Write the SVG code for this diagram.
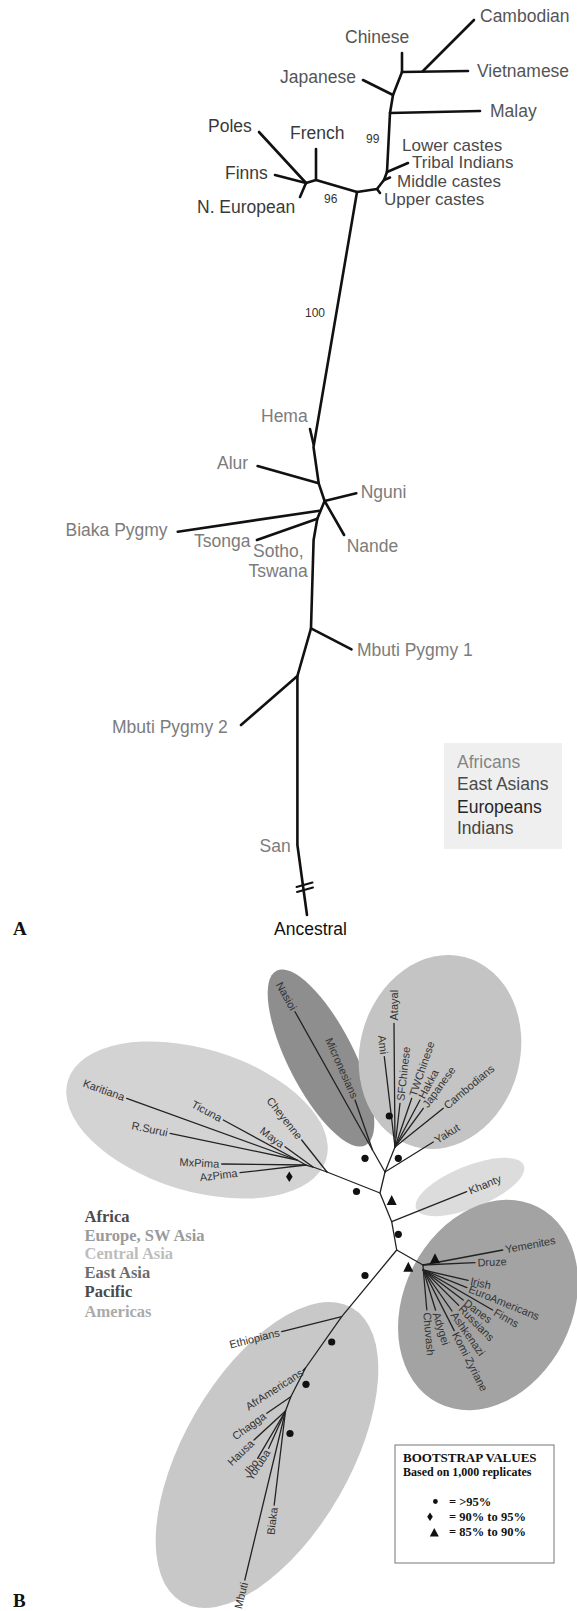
<svg xmlns="http://www.w3.org/2000/svg" width="577" height="1611" viewBox="0 0 577 1611">
<style>
.ta{font-family:"Liberation Sans",Arial,sans-serif;font-size:17.5px}
.ti{font-family:"Liberation Sans",Arial,sans-serif;font-size:17px}
.af{fill:#7c7c7c}
.ea{fill:#555}
.eu{fill:#3a3a3a}
.in{fill:#4a4a4a}
.num{font-family:"Liberation Sans",Arial,sans-serif;font-size:12px;fill:#333}
.la{fill:none;stroke:#111;stroke-width:2.6;stroke-linecap:round;stroke-linejoin:round}
.lb{fill:none;stroke:#222;stroke-width:1.3;stroke-linecap:round;stroke-linejoin:round}
.t{font-family:"Liberation Sans",Arial,sans-serif;font-size:11px;fill:#333}
.leg{font-family:"Liberation Serif","Times New Roman",serif;font-weight:bold;font-size:16.5px}
.bs{font-family:"Liberation Serif","Times New Roman",serif;font-weight:bold;fill:#111}
.panel{font-family:"Liberation Serif","Times New Roman",serif;font-weight:bold;font-size:19px;fill:#111}
.dot{fill:#111}
</style>
<rect width="577" height="1611" fill="#fff"/>

<!-- ===== Panel A ===== -->
<g id="a-connectors" class="la">
  <path d="M423,71 L474,20"/>
  <path d="M402,72 L468,71"/>
  <path d="M402,53 L402,72"/>
  <path d="M402,72 L393,95 L390,113 L387,172"/>
  <path d="M393,95 L363,80"/>
  <path d="M390,113 L480,111"/>
  <path d="M387,172 L408,163"/>
  <path d="M387,172 L384,180 L377,189 L357,192"/>
  <path d="M384,180 L390,177.5"/>
  <path d="M377,189 L380,193"/>
  <path d="M357,192 L316,180 L306,183"/>
  <path d="M316,180 L316,149"/>
  <path d="M306,183 L259,132"/>
  <path d="M306,183 L275,175"/>
  <path d="M306,183 L300,197"/>
  <path d="M357,192 L313.5,447 L318.7,483.3 L324.6,501 L317.3,518.7 L313.6,540 L311,628.3 L297.4,676 L297.4,845 L307,915"/>
  <path d="M313.5,444 L310,429"/>
  <path d="M318.7,483.3 L257.6,466"/>
  <path d="M324.6,501 L356.3,493.3"/>
  <path d="M324.6,501 L344.1,535"/>
  <path d="M319.5,510.7 L177.8,531.7"/>
  <path d="M317.3,518.7 L256.9,540"/>
  <path d="M311,628.3 L351.5,649.3"/>
  <path d="M297.4,676 L241,725"/>
  <path d="M296.5,887 L312.5,882.5" stroke-width="2"/>
  <path d="M297,892 L313,887.5" stroke-width="2"/>
</g>

<g id="n-cambodian"><text class="ta ea" x="480" y="22">Cambodian</text></g>
<g id="n-chinese"><text class="ta ea" x="345" y="43.3">Chinese</text></g>
<g id="n-vietnamese"><text class="ta ea" x="477" y="77.3">Vietnamese</text></g>
<g id="n-japanese"><text class="ta ea" x="280" y="82.7">Japanese</text></g>
<g id="n-malay"><text class="ta ea" x="490" y="117">Malay</text></g>
<g id="n-poles"><text class="ta eu" x="208" y="131.7">Poles</text></g>
<g id="n-french"><text class="ta eu" x="290" y="139.3">French</text></g>
<g id="n-lower"><text class="ti in" x="402" y="150.5">Lower castes</text></g>
<g id="n-tribal"><text class="ti in" x="412" y="167.5">Tribal Indians</text></g>
<g id="n-finns"><text class="ta eu" x="225" y="179">Finns</text></g>
<g id="n-middle"><text class="ti in" x="397" y="187">Middle castes</text></g>
<g id="n-upper"><text class="ti in" x="384" y="204.5">Upper castes</text></g>
<g id="n-neuropean"><text class="ta eu" x="197" y="213">N. European</text></g>
<g id="b-99"><text class="num" x="366" y="143">99</text></g>
<g id="b-96"><text class="num" x="324" y="203">96</text></g>
<g id="b-100"><text class="num" x="305" y="317">100</text></g>
<g id="n-hema"><text class="ta af" x="261" y="422">Hema</text></g>
<g id="n-alur"><text class="ta af" x="217" y="469.3">Alur</text></g>
<g id="n-nguni"><text class="ta af" x="360.7" y="498.3">Nguni</text></g>
<g id="n-biaka"><text class="ta af" x="65.5" y="535.7">Biaka Pygmy</text></g>
<g id="n-tsonga"><text class="ta af" x="194" y="546.7">Tsonga</text></g>
<g id="n-nande"><text class="ta af" x="346.7" y="552.3">Nande</text></g>
<g id="n-sotho"><text class="ta af" x="253" y="556.7">Sotho,<tspan x="248.4" y="577.3">Tswana</tspan></text></g>
<g id="n-mbuti1"><text class="ta af" x="357" y="656">Mbuti Pygmy 1</text></g>
<g id="n-mbuti2"><text class="ta af" x="112" y="732.7">Mbuti Pygmy 2</text></g>
<g id="n-san"><text class="ta af" x="259.5" y="851.7">San</text></g>
<g id="n-ancestral"><text class="ta" fill="#111" x="274" y="935">Ancestral</text></g>

<g id="legend-a">
  <rect x="444" y="743" width="118" height="106" fill="#efefef"/>
  <text class="ta" x="457" y="768.3" fill="#858585">Africans</text>
  <text class="ta" x="457" y="790" fill="#4a4a4a">East Asians</text>
  <text class="ta" x="457" y="812.7" fill="#262626">Europeans</text>
  <text class="ta" x="457" y="834" fill="#444">Indians</text>
</g>
<g id="label-A"><text class="panel" x="13" y="935">A</text></g>

<!-- ===== Panel B ===== -->
<g id="clusters">
  <ellipse id="c-americas" cx="197" cy="1120" rx="135" ry="71" transform="rotate(17 197 1120)" fill="#d3d3d3"/>
  <ellipse id="c-pacific" cx="321" cy="1058" rx="98" ry="33" transform="rotate(63 321 1058)" fill="#8e8e8e"/>
  <ellipse id="c-eastasia" cx="440" cy="1052" rx="80" ry="98" transform="rotate(15 440 1052)" fill="#c4c4c4"/>
  <ellipse id="c-centralasia" cx="470" cy="1187" rx="58" ry="21" transform="rotate(-22 470 1187)" fill="#dcdcdc"/>
  <ellipse id="c-europe" cx="488" cy="1305" rx="84" ry="110" transform="rotate(27 488 1305)" fill="#a3a3a3"/>
  <ellipse id="c-africa" cx="267" cy="1455" rx="83" ry="170" transform="rotate(30 267 1455)" fill="#c8c8c8"/>
</g>

<g id="b-connectors" class="lb">
  <path d="M327,1172 L380,1193 L391.7,1221.7 L396.7,1250 L423,1265"/>
  <path d="M380,1193 L385,1172"/>
  <path d="M385,1172 L372.5,1150 L295,1011.7"/>
  <path d="M372.5,1150 L355,1100"/>
  <path d="M385,1172 L395,1147 L394,1023.3"/>
  <path d="M395,1147 L384.3,1056.7"/>
  <path d="M395,1147 L400,1103.3"/>
  <path d="M395,1147 L411.7,1098.3"/>
  <path d="M395,1147 L420,1100"/>
  <path d="M395,1147 L423.3,1108.3"/>
  <path d="M395,1147 L443.3,1108.3"/>
  <path d="M385,1172 L433.3,1142"/>
  <path d="M327,1172 L313,1167 L306,1165 L297,1160 L126.7,1098.3"/>
  <path d="M327,1172 L301.7,1140"/>
  <path d="M313,1167 L285,1146.7"/>
  <path d="M297,1160 L223.3,1120"/>
  <path d="M297,1160 L170,1133.3"/>
  <path d="M306,1165 L221.7,1164"/>
  <path d="M306,1165 L240,1172.7"/>
  <path d="M391.7,1221.7 L466.7,1191.7"/>
  <path d="M423,1265 L502.7,1250"/>
  <path d="M423,1265 L475,1262.7"/>
  <path d="M423,1265 L423.3,1270"/>
  <path d="M423.3,1270 L468.1,1280.3"/>
  <path d="M423.3,1270 L466.9,1287.6"/>
  <path d="M423.3,1270 L492.6,1310"/>
  <path d="M423.3,1270 L463.2,1300.1"/>
  <path d="M423.3,1270 L458.7,1305.4"/>
  <path d="M423.3,1270 L452,1311"/>
  <path d="M423.3,1270 L454.2,1330.6"/>
  <path d="M423.3,1270 L435.6,1310.2"/>
  <path d="M423.3,1270 L426.8,1309.8"/>
  <path d="M396.7,1250 L341.7,1316.7 L305.5,1368 L290.8,1396.7 L285.5,1411"/>
  <path d="M341.7,1316.7 L281.7,1331.7"/>
  <path d="M305.5,1368 L303,1370.5"/>
  <path d="M290.8,1396.7 L266.8,1413.3"/>
  <path d="M285.5,1411 L254,1440"/>
  <path d="M285.5,1411 L268.7,1448.3"/>
  <path d="M285.5,1411 L257.6,1458.3"/>
  <path d="M285.5,1411 L274.2,1505"/>
  <path d="M285.5,1411 L244.8,1580"/>
</g>

<g id="bootstrap-marks">
  <circle class="dot" cx="365" cy="1158.3" r="3.6"/>
  <circle class="dot" cx="398.3" cy="1158.3" r="3.6"/>
  <circle class="dot" cx="389.3" cy="1116" r="3.6"/>
  <circle class="dot" cx="356.5" cy="1191.5" r="3.6"/>
  <circle class="dot" cx="398.3" cy="1234.3" r="3.6"/>
  <circle class="dot" cx="365" cy="1275.5" r="3.6"/>
  <circle class="dot" cx="331.7" cy="1342" r="3.6"/>
  <circle class="dot" cx="306" cy="1384.3" r="3.6"/>
  <circle class="dot" cx="290" cy="1433.5" r="3.6"/>
  <path class="dot" d="M391.7,1195 L396.7,1205 L386.7,1205 Z"/>
  <path class="dot" d="M408.3,1261.7 L413.3,1271.7 L403.3,1271.7 Z"/>
  <path class="dot" d="M435,1253.3 L440,1263.3 L430,1263.3 Z"/>
  <path class="dot" d="M289.3,1171.5 L292.6,1176.7 L289.3,1181.9 L286,1176.7 Z"/>
</g>

<g id="n-karitiana"><text class="t" text-anchor="end" dy="0.35em" transform="translate(124.3,1097.4) rotate(19.9)">Karitiana</text></g>
<g id="n-ticuna"><text class="t" text-anchor="end" dy="0.35em" transform="translate(221.1,1118.8) rotate(28.5)">Ticuna</text></g>
<g id="n-rsurui"><text class="t" text-anchor="end" dy="0.35em" transform="translate(167.6,1132.8) rotate(11.9)">R.Surui</text></g>
<g id="n-mxpima"><text class="t" text-anchor="end" dy="0.35em" transform="translate(219.2,1164) rotate(3)">MxPima</text></g>
<g id="n-azpima"><text class="t" text-anchor="end" dy="0.35em" transform="translate(237.5,1173) rotate(-6.7)">AzPima</text></g>
<g id="n-maya"><text class="t" text-anchor="end" dy="0.35em" transform="translate(283,1145.2) rotate(36)">Maya</text></g>
<g id="n-cheyenne"><text class="t" text-anchor="end" dy="0.35em" transform="translate(300.1,1138) rotate(51.7)">Cheyenne</text></g>

<g id="n-nasioi"><text class="t" text-anchor="end" dy="0.35em" transform="translate(293.8,1009.5) rotate(60.9)">Nasioi</text></g>
<g id="n-micronesians"><text class="t" text-anchor="end" dy="0.35em" transform="translate(355,1097.6) rotate(66)">Micronesians</text></g>

<g id="n-atayal"><text class="t" dy="0.35em" transform="translate(394,1020.5) rotate(-90)">Atayal</text></g>
<g id="n-ami"><text class="t" text-anchor="end" dy="0.35em" transform="translate(384,1054.2) rotate(83.2)">Ami</text></g>
<g id="n-sfchinese"><text class="t" dy="0.35em" transform="translate(400.3,1100.8) rotate(-83.5)">SFChinese</text></g>
<g id="n-twchinese"><text class="t" dy="0.35em" transform="translate(412.5,1096) rotate(-71.1)">TWChinese</text></g>
<g id="n-hakka"><text class="t" dy="0.35em" transform="translate(421.2,1097.8) rotate(-62)">Hakka</text></g>
<g id="n-japanese-b"><text class="t" dy="0.35em" transform="translate(424.8,1106.3) rotate(-53.8)">Japanese</text></g>
<g id="n-cambodians"><text class="t" dy="0.35em" transform="translate(445.3,1106.7) rotate(-40)">Cambodians</text></g>
<g id="n-yakut"><text class="t" dy="0.35em" transform="translate(435.4,1140.7) rotate(-31.8)">Yakut</text></g>

<g id="n-khanty"><text class="t" dy="0.35em" transform="translate(469,1190.8) rotate(-21.8)">Khanty</text></g>

<g id="n-yemenites"><text class="t" dy="0.35em" transform="translate(505.2,1249.5) rotate(-10.7)">Yemenites</text></g>
<g id="n-druze"><text class="t" dy="0.35em" transform="translate(477.5,1262.6) rotate(-2.5)">Druze</text></g>
<g id="n-irish"><text class="t" dy="0.35em" transform="translate(470.5,1280.9) rotate(13)">Irish</text></g>
<g id="n-euroamericans"><text class="t" dy="0.35em" transform="translate(469.2,1288.5) rotate(22)">EuroAmericans</text></g>
<g id="n-finns-b"><text class="t" dy="0.35em" transform="translate(494.7,1311.3) rotate(30)">Finns</text></g>
<g id="n-danes"><text class="t" dy="0.35em" transform="translate(465.2,1301.6) rotate(37)">Danes</text></g>
<g id="n-russians"><text class="t" dy="0.35em" transform="translate(460.4,1307.1) rotate(45)">Russians</text></g>
<g id="n-ashkenazi"><text class="t" dy="0.35em" transform="translate(453.4,1313) rotate(55)">Ashkenazi</text></g>
<g id="n-komi"><text class="t" dy="0.35em" transform="translate(455.3,1332.8) rotate(63)">Komi Zyriane</text></g>
<g id="n-adygei"><text class="t" dy="0.35em" transform="translate(436.3,1312.6) rotate(73)">Adygei</text></g>
<g id="n-chuvash"><text class="t" dy="0.35em" transform="translate(427,1312.3) rotate(85)">Chuvash</text></g>

<g id="n-ethiopians"><text class="t" text-anchor="end" dy="0.35em" transform="translate(279.3,1332.3) rotate(-14)">Ethiopians</text></g>
<g id="n-aframericans"><text class="t" text-anchor="end" dy="0.35em" transform="translate(302,1371.5) rotate(-33)">AfrAmericans</text></g>
<g id="n-chagga"><text class="t" text-anchor="end" dy="0.35em" transform="translate(264.7,1414.7) rotate(-36)">Chagga</text></g>
<g id="n-hausa"><text class="t" text-anchor="end" dy="0.35em" transform="translate(252.2,1441.7) rotate(-44)">Hausa</text></g>
<g id="n-yoruba"><text class="t" text-anchor="end" dy="0.35em" transform="translate(267.7,1450.6) rotate(-57)">Yoruba</text></g>
<g id="n-ibo"><text class="t" text-anchor="end" dy="0.35em" transform="translate(256.3,1460.5) rotate(-52)">Ibo</text></g>
<g id="n-biaka-b"><text class="t" text-anchor="end" dy="0.35em" transform="translate(273.9,1507.5) rotate(-83.1)">Biaka</text></g>
<g id="n-mbuti-b"><text class="t" text-anchor="end" dy="0.35em" transform="translate(244.2,1582.4) rotate(-76.5)">Mbuti</text></g>

<g id="legend-b">
  <text class="leg" x="84.6" y="1221.7" fill="#4a4a4a">Africa</text>
  <text class="leg" x="84.6" y="1240.7" fill="#9a9a9a">Europe, SW Asia</text>
  <text class="leg" x="84.6" y="1259.3" fill="#bdbdbd">Central Asia</text>
  <text class="leg" x="84.6" y="1278.3" fill="#6c6c6c">East Asia</text>
  <text class="leg" x="84.6" y="1297.3" fill="#4a4a4a">Pacific</text>
  <text class="leg" x="84.6" y="1316.7" fill="#aaaaaa">Americas</text>
</g>

<g id="bootstrap-legend">
  <rect x="395" y="1445" width="159" height="118" fill="#fff" stroke="#777" stroke-width="1"/>
  <text class="bs" x="403" y="1461.7" font-size="13px">BOOTSTRAP VALUES</text>
  <text class="bs" x="403" y="1475.5" font-size="12px">Based on 1,000 replicates</text>
  <circle class="dot" cx="435.4" cy="1501.5" r="2.4"/>
  <path class="dot" d="M430,1512.5 L432.8,1516.7 L430,1520.9 L427.2,1516.7 Z"/>
  <path class="dot" d="M434.3,1528 L438.8,1536.5 L429.8,1536.5 Z"/>
  <text class="bs" font-size="12.5px" x="449" y="1505.5">=  &gt;95%</text>
  <text class="bs" font-size="12.5px" x="449" y="1520.5">=  90% to 95%</text>
  <text class="bs" font-size="12.5px" x="449" y="1536">=  85% to 90%</text>
</g>
<g id="label-B"><text class="panel" x="13" y="1607">B</text></g>
</svg>
